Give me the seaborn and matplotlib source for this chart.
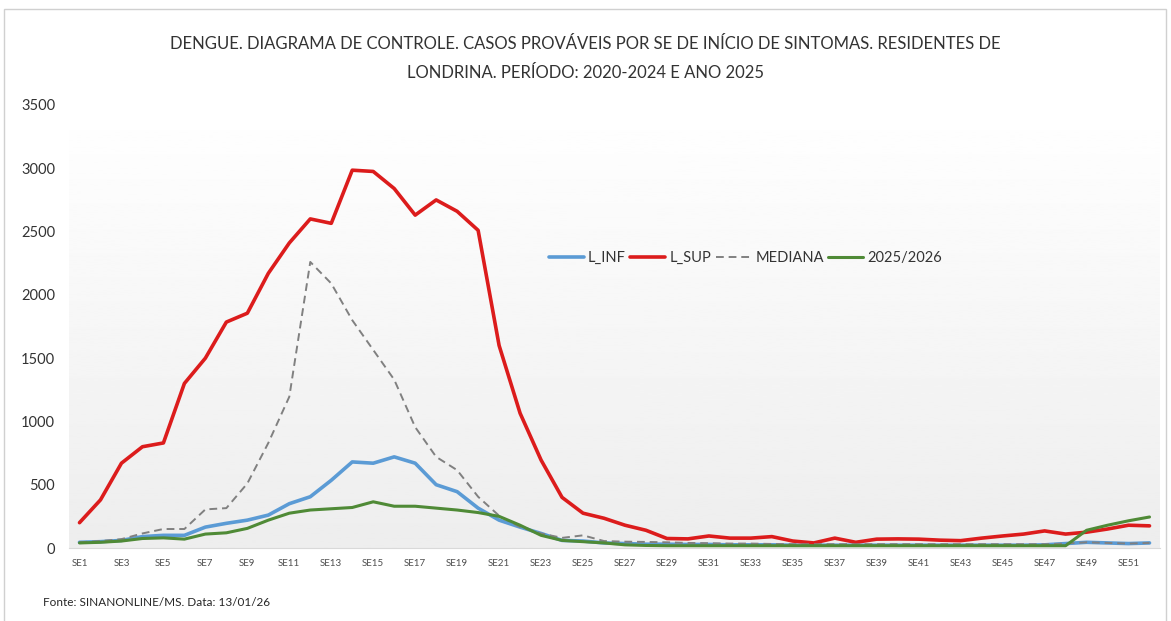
import numpy as np
import pandas as pd
import seaborn as sns
import matplotlib.pyplot as plt
from matplotlib.patches import Rectangle

# semanas epidemiologicas
weeks = list(range(1, 53))
tick_labels = ['SE' + str(w) for w in range(1, 53, 2)]

# valores
l_inf = [45, 50, 60, 90, 100, 100, 165, 195, 220, 260,
         350, 405, 535, 680, 670, 720, 670, 500, 445, 315,
         220, 165, 115, 60, 55, 40, 35, 30, 30, 28,
         28, 25, 25, 25, 22, 22, 22, 22, 22, 22,
         22, 22, 22, 22, 22, 22, 25, 35, 45, 40,
         35, 40]
l_sup = [200, 380, 670, 800, 830, 1300, 1500, 1785, 1855, 2170,
         2410, 2600, 2565, 2985, 2975, 2840, 2630, 2750, 2660, 2510,
         1600, 1065, 695, 400, 275, 235, 180, 140, 75, 72,
         95, 78, 78, 90, 55, 40, 78, 45, 70, 72,
         70, 62, 58, 78, 95, 110, 135, 110, 125, 150,
         180, 175]
mediana = [45, 55, 70, 115, 150, 150, 305, 315, 510, 830,
           1195, 2260, 2090, 1800, 1565, 1330, 955, 720, 615, 405,
           255, 165, 115, 80, 100, 55, 50, 48, 45, 40,
           38, 35, 35, 32, 30, 30, 30, 30, 30, 30,
           30, 30, 30, 30, 30, 30, 30, 35, 45, 40,
           35, 40]
ano_2025 = [40, 45, 55, 75, 80, 70, 110, 120, 155, 220,
            275, 300, 310, 320, 365, 330, 330, 315, 300, 280,
            250, 180, 100, 60, 50, 40, 25, 20, 18, 18,
            18, 18, 18, 18, 18, 18, 18, 18, 18, 18,
            18, 18, 18, 18, 18, 18, 18, 18, 140, 180,
            215, 245]

sns.set_style('white')
plt.rcParams['font.family'] = ['Lato', 'DejaVu Sans']

fig = plt.figure(figsize=(11.71, 6.21), dpi=100)
ax = fig.add_axes([69/1171, 1-548/621, 1091/1171, 443/621])

# fundo em degrade da area do grafico
grad = np.linspace(1.0, 0.93, 256).reshape(-1, 1)
ax.imshow(grad, cmap='gray', vmin=0, vmax=1, aspect='auto',
          extent=[0, 1, 0, 1], transform=ax.transAxes, zorder=0)

sns.lineplot(x=weeks, y=l_inf, ax=ax, color='#5b9bd5', lw=2.6, label='L_INF')
sns.lineplot(x=weeks, y=l_sup, ax=ax, color='#dc1c1c', lw=2.6, label='L_SUP')
sns.lineplot(x=weeks, y=mediana, ax=ax, color='#808080', lw=1.4, ls=(0, (4, 2.5)), label='MEDIANA')
sns.lineplot(x=weeks, y=ano_2025, ax=ax, color='#4f8a36', lw=2.2, label='2025/2026')

ax.set_xlim(0.5, 52.5)
ax.set_ylim(0, 3500)
ax.set_yticks(range(0, 3501, 500))
ax.set_xticks(range(1, 53, 2))
ax.set_xticklabels(tick_labels, fontsize=7, color='#4d4d4d')
ax.tick_params(axis='y', labelsize=10.5, colors='#333333', length=0, pad=10)
ax.tick_params(axis='x', length=0, pad=8)
for s in ['top', 'right', 'left']:
    ax.spines[s].set_visible(False)
ax.spines['bottom'].set_color('#d9d9d9')
ax.set_xlabel('')
ax.set_ylabel('')

ax.legend(loc='center', bbox_to_anchor=(0.62, 0.655), ncol=4, frameon=False,
          fontsize=10.5, handlelength=2.4, handletextpad=0.3, columnspacing=0.3,
          labelcolor='#333333')

fig.text(0.5, 1-44/621, 'DENGUE. DIAGRAMA DE CONTROLE. CASOS PROVÁVEIS POR SE DE INÍCIO DE SINTOMAS. RESIDENTES DE',
         ha='center', va='center', fontsize=12, color='#333333')
fig.text(0.5, 1-73/621, 'LONDRINA. PERÍODO: 2020-2024 E ANO 2025',
         ha='center', va='center', fontsize=12, color='#333333')
fig.text(43/1171, 1-603/621, 'Fonte: SINANONLINE/MS. Data: 13/01/26',
         ha='left', va='center', fontsize=8.5, color='#262626')

# moldura externa
fig.patches.append(Rectangle((4/1171, -0.01), 1162/1171, 1-9/621 + 0.01, transform=fig.transFigure,
                             fill=False, edgecolor='#d0d0d0', lw=1))

fig.savefig('out.png', dpi=100)
